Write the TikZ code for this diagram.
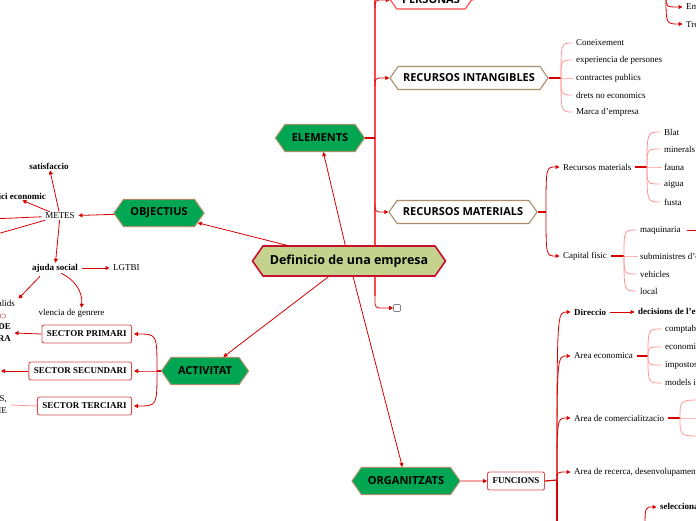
\documentclass[tikz,border=0pt]{standalone}
\usepackage{fontspec}
\setmainfont{Liberation Serif}
\newfontfamily\hexfont{Open Sans}
\usetikzlibrary{arrows.meta,positioning,calc,shapes.symbols}

\definecolor{mapgreen}{RGB}{0,166,81}
\definecolor{hexedge}{RGB}{166,144,104}
\definecolor{rootfill}{RGB}{196,210,141}
\definecolor{rootedge}{RGB}{200,16,46}
\definecolor{linered}{RGB}{214,0,0}
\definecolor{spinered}{RGB}{255,70,70}
\definecolor{fanpink}{RGB}{255,150,150}
\definecolor{boxedge}{RGB}{214,80,80}

\begin{document}
\begin{tikzpicture}[x=1pt, y=-1pt,
  hex/.style={signal, signal to=east and west, signal pointer angle=110,
              draw=hexedge, line width=1.1pt, inner sep=0pt,
              font=\hexfont\bfseries\fontsize{11}{13}\selectfont},
  topic/.style={hex, fill=mapgreen, minimum height=27pt},
  sub/.style={hex, fill=white, minimum height=23pt},
  root/.style={hex, fill=rootfill, draw=rootedge, line width=1.6pt,
               minimum height=30pt, minimum width=193pt,
               font=\hexfont\bfseries\fontsize{12.5}{15}\selectfont},
  leaf/.style={anchor=west, inner xsep=3.5pt, inner ysep=1pt,
               font=\fontsize{9}{12}\selectfont},
  bleaf/.style={leaf, font=\bfseries\fontsize{9}{12}\selectfont},
  sbox/.style={draw=boxedge, line width=0.9pt, rounded corners=2pt, fill=white,
               minimum height=18pt, inner xsep=5pt, inner ysep=1pt,
               font=\bfseries\fontsize{9}{11}\selectfont},
  arr/.style={draw=linered, line width=0.8pt, -{Triangle[length=4pt,width=4pt]}},
  stem/.style={draw=linered, line width=1.2pt},
  fan/.style={draw=fanpink, line width=0.8pt},
  spine/.style={draw=spinered, line width=1.2pt}]
\useasboundingbox (0,0) rectangle (696,520);
\clip (0,0) rectangle (696,520);

% spine of ELEMENTS, behind the root
\coordinate (spinetop) at (375,-20);
\coordinate (spinebot) at (375,296);
\draw[spine] (spinetop) -- (spinebot);

% main topics
\node[root] (def) at (349,261) {Definicio de una empresa};
\node[topic, minimum width=89pt] (elem) at (320,138) {ELEMENTS};
\node[topic, minimum width=90pt] (obj) at (159,213) {OBJECTIUS};
\node[topic, minimum width=87pt] (act) at (205,371) {ACTIVITAT};
\node[topic, minimum width=108pt] (org) at (406,481) {ORGANITZATS};
\draw[arr] (def) -- (elem);
\draw[arr] (def) -- (obj);
\draw[arr] (def) -- (act);
\draw[arr] (def) -- (org);

% ELEMENTS
\node[sub, draw=spinered, minimum width=81pt, minimum height=18pt] (pers) at (431,0) {PERSONAS};
\node[sub, minimum width=158pt] (rint) at (469,78) {RECURSOS INTANGIBLES};
\node[sub, minimum width=148pt] (rmat) at (463,212) {RECURSOS MATERIALS};
\node[draw=gray, line width=0.6pt, rounded corners=1pt, minimum size=7pt, inner sep=0pt] (blank) at (397,308) {};
\draw[stem] (elem.east) -- (elem.east -| spinetop);
\draw[arr, rounded corners=4pt] ($(spinetop |- pers.west)+(0,8)$) |- (pers.west);
\draw[arr, rounded corners=4pt] ($(spinetop |- rint.west)+(0,8)$) |- (rint.west);
\draw[arr, rounded corners=4pt] ($(spinetop |- rmat.west)+(0,-8)$) |- (rmat.west);
\draw[arr, rounded corners=4pt] (spinebot) |- (blank.west);

% PERSONAS
\node[bleaf] (persq) at (496.5,-4) {persones que treballen per una empresa};
\node[leaf] (emp) at (682.5,7) {Empresaris};
\node[leaf] (treb) at (682.5,24) {Treballadors};
\coordinate (phub) at (666,-4);
\draw[arr] (pers.east) -- (persq.west);
\draw[stem] (persq.east) -- (phub);
\foreach \n in {emp,treb}
  \draw[arr] (phub) .. controls (phub |- \n.west) .. (\n.west);

% RECURSOS INTANGIBLES
\node[leaf] (con) at (572.5,43) {Coneixement};
\node[leaf] (exp) at (572.5,60) {experiencia de persones};
\node[leaf] (ctr) at (572.5,78) {contractes publics};
\node[leaf] (drt) at (572.5,95) {drets no economics};
\node[leaf] (mrc) at (572.5,112) {Marca d'empresa};
\coordinate (rihub) at (561,78);
\draw[stem] (rint.east) -- (rihub);
\foreach \n in {con,exp,ctr,drt,mrc}
  \draw[fan] (rihub) .. controls (rihub |- \n.west) .. (\n.west);

% RECURSOS MATERIALS
\node[leaf] (recm) at (559.5,167) {Recursos materials};
\node[leaf] (capf) at (559.5,256) {Capital fisic};
\coordinate (rmhub) at (546,212);
\draw[stem] (rmat.east) -- (rmhub);
\foreach \n in {recm,capf}
  \draw[arr] (rmhub) .. controls (rmhub |- \n.west) .. (\n.west);

\node[leaf] (blat) at (660.5,132) {Blat};
\node[leaf] (minr) at (660.5,149) {minerals};
\node[leaf] (faun) at (660.5,167) {fauna};
\node[leaf] (aigu) at (660.5,184) {aigua};
\node[leaf] (fust) at (660.5,202) {fusta};
\coordinate (rehub) at (647,167);
\draw[stem] (recm.east) -- (rehub);
\foreach \n in {blat,minr,faun,aigu,fust}
  \draw[fan] (rehub) .. controls (rehub |- \n.west) .. (\n.west);

\node[leaf] (maq) at (636.5,230) {maquinaria};
\node[leaf] (subm) at (636.5,256) {subministres d'oficina};
\node[leaf] (vehi) at (636.5,274) {vehicles};
\node[leaf] (locl) at (636.5,291) {local};
\coordinate (cfhub) at (624,256);
\coordinate (maqnext) at (716,230);
\draw[stem] (capf.east) -- (cfhub);
\foreach \n in {maq,subm,vehi,locl}
  \draw[fan] (cfhub) .. controls (cfhub |- \n.west) .. (\n.west);
\draw[arr, shorten <=3pt] (maq.east) -- (maqnext);

% OBJECTIUS
\node[leaf, anchor=center] (metes) at (60,216) {METES};
\node[bleaf, anchor=center] (satis) at (49,166) {satisfaccio};
\node[bleaf, anchor=east] (benef) at (49.5,196) {benefici economic};
\node[bleaf, anchor=center] (ajuda) at (55,268) {ajuda social};
\node[leaf] (lgtbi) at (109.5,268) {LGTBI};
\node[leaf, anchor=east] (minus) at (18.5,303) {minusvalids};
\node[leaf, anchor=center] (viol) at (71.5,313) {vlencia de genrere};
\node[draw=boxedge, line width=0.5pt, rounded corners=1pt, inner sep=0.6pt,
      minimum width=10pt, anchor=east, font=\fontsize{4}{4}\selectfont] (badge) at (5.5,316) {1};
\coordinate (mleft1) at (-10,219);
\coordinate (mleft2) at (-10,236);
\draw[arr] (obj) -- (metes);
\draw[arr] (metes) -- (satis);
\draw[arr] (metes) -- (benef);
\draw[arr] (metes) -- (mleft1);
\draw[arr] (metes) -- (mleft2);
\draw[arr] (metes) -- (ajuda);
\draw[arr] (ajuda) -- (lgtbi);
\draw[arr] ($(ajuda.south)+(-15,3)$) -- (minus.north east);
\draw[arr] ($(ajuda.south)+(6,0)$) to[bend left=35] ($(viol.north)+(10,0)$);

% ACTIVITAT
\node[sbox, anchor=east] (sprim) at (132,334) {SECTOR PRIMARI};
\node[sbox, anchor=east] (ssec) at (132,371) {SECTOR SECUNDARI};
\node[sbox, anchor=east] (ster) at (132,406) {SECTOR TERCIARI};
\coordinate (acthub) at (157,371);
\draw[stem] (act.west) -- (acthub);
\foreach \n in {sprim,ssec,ster}
  \draw[arr, shorten >=2pt] (acthub) .. controls (acthub |- \n.east) .. (\n.east);
\node[bleaf, anchor=east, align=right] (extr) at (14.5,333) {EXTRACCIO DE\\MATERIA PRIMERA};
\node[leaf, anchor=east, align=right] (serv) at (10.5,405) {TRANSPORTS,\\COMERC I TURISME};
\coordinate (ssnext) at (1,371);
\draw[arr] (sprim.west) -- (extr.east);
\draw[arr] (ssec.west) -- (ssnext);
\draw[fan] (ster.west) -- (serv.east);

% ORGANITZATS
\node[sbox] (func) at (516,481) {FUNCIONS};
\draw[arr] (org) -- (func);
\node[bleaf] (dir) at (570.5,312) {Direccio};
\node[leaf] (aec) at (570.5,356) {Area economica};
\node[leaf] (acom) at (570.5,418) {Area de comercialitzacio};
\node[leaf] (arec) at (570.5,472) {Area de recerca, desenvolupament i innovacio};
\coordinate (fhub) at (557,480);
\coordinate (fdown) at (557,540);
\draw[stem] (func.east) -- (fhub);
\draw[stem] (fhub) -- (fdown);
\foreach \n in {dir,aec,acom,arec}
  \draw[arr] (fhub) .. controls (fhub |- \n.west) .. (\n.west);

\node[bleaf] (dec) at (634.5,312) {decisions de l'empresa};
\draw[arr] (dir) -- (dec);

\node[leaf] (comp) at (661.5,329) {comptabilitat};
\node[leaf] (econ) at (661.5,347) {economia};
\node[leaf] (impo) at (661.5,365) {impostos};
\node[leaf] (mode) at (661.5,383) {models i plans};
\coordinate (aehub) at (648,356);
\draw[stem] (aec.east) -- (aehub);
\foreach \n in {comp,econ,impo,mode}
  \draw[fan] (aehub) .. controls (aehub |- \n.west) .. (\n.west);

\coordinate (achub) at (680,418);
\coordinate (acup) at (702,400);
\coordinate (acmid) at (702,418);
\coordinate (acdn) at (702,436);
\draw[stem] (acom.east) -- (achub);
\foreach \n in {acup,acmid,acdn}
  \draw[fan] (achub) .. controls (achub |- \n) .. (\n);

\node[bleaf] (sel) at (656.5,507) {seleccionar personal};
\coordinate (selfrom) at (645,530);
\draw[arr] (selfrom) .. controls (selfrom |- sel.west) .. (sel.west);
\end{tikzpicture}
\end{document}
